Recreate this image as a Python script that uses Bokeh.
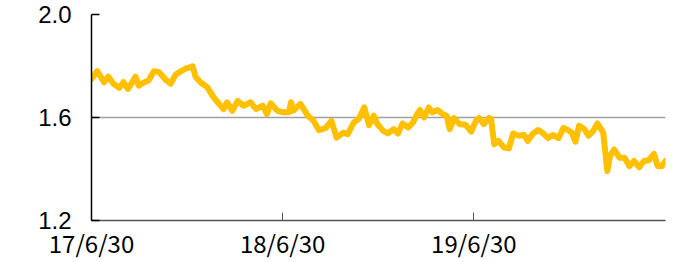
import pandas as pd
from bokeh.plotting import figure
from bokeh.models import FixedTicker, Range1d
from bokeh.embed import file_html
from bokeh.resources import INLINE

dates = [
    "2017-06-30", "2017-07-11", "2017-07-24", "2017-08-01", "2017-08-11", "2017-08-22",
    "2017-08-30", "2017-09-08", "2017-09-22", "2017-09-28", "2017-10-09", "2017-10-17",
    "2017-10-27", "2017-11-06", "2017-11-20", "2017-11-28", "2017-12-08", "2017-12-18",
    "2017-12-27", "2018-01-09", "2018-01-15", "2018-01-24", "2018-02-06", "2018-02-16",
    "2018-02-26", "2018-03-09", "2018-03-16", "2018-03-26", "2018-04-05", "2018-04-16",
    "2018-04-30", "2018-05-10", "2018-05-23", "2018-05-31", "2018-06-07", "2018-06-20",
    "2018-07-02", "2018-07-12", "2018-07-16", "2018-07-20", "2018-08-03", "2018-08-17",
    "2018-08-28", "2018-09-07", "2018-09-20", "2018-10-01", "2018-10-11", "2018-10-24",
    "2018-11-01", "2018-11-13", "2018-11-22", "2018-12-03", "2018-12-12", "2018-12-21",
    "2018-12-28", "2019-01-08", "2019-01-17", "2019-01-28", "2019-02-05", "2019-02-14",
    "2019-02-25", "2019-03-06", "2019-03-12", "2019-03-19", "2019-03-27", "2019-04-05",
    "2019-04-12", "2019-04-22", "2019-05-02", "2019-05-09", "2019-05-15", "2019-05-23",
    "2019-06-03", "2019-06-14", "2019-06-25", "2019-07-04", "2019-07-10", "2019-07-19",
    "2019-07-29", "2019-08-02", "2019-08-08", "2019-08-16", "2019-08-27", "2019-09-05",
    "2019-09-13", "2019-09-24", "2019-10-04", "2019-10-11", "2019-10-21", "2019-10-31",
    "2019-11-08", "2019-11-19", "2019-11-28", "2019-12-09", "2019-12-18", "2019-12-27",
    "2020-01-03", "2020-01-10", "2020-01-17", "2020-01-27", "2020-02-04", "2020-02-13",
    "2020-02-21", "2020-03-03", "2020-03-11", "2020-03-16", "2020-03-24", "2020-04-03",
    "2020-04-13", "2020-04-22", "2020-05-01", "2020-05-11", "2020-05-20", "2020-05-29",
    "2020-06-08", "2020-06-15", "2020-06-23", "2020-06-30",
]
values = [
    1.750, 1.780, 1.737, 1.759, 1.731, 1.715,
    1.737, 1.711, 1.759, 1.724, 1.737, 1.744,
    1.780, 1.776, 1.744, 1.731, 1.767, 1.780,
    1.790, 1.799, 1.757, 1.737, 1.718, 1.685,
    1.659, 1.633, 1.659, 1.626, 1.665, 1.646,
    1.659, 1.633, 1.646, 1.613, 1.655, 1.626,
    1.620, 1.620, 1.659, 1.626, 1.653, 1.607,
    1.587, 1.551, 1.559, 1.587, 1.522, 1.541,
    1.535, 1.581, 1.594, 1.639, 1.570, 1.607,
    1.574, 1.548, 1.538, 1.555, 1.538, 1.577,
    1.561, 1.581, 1.607, 1.629, 1.600, 1.639,
    1.620, 1.629, 1.613, 1.607, 1.555, 1.598,
    1.574, 1.572, 1.545, 1.587, 1.598, 1.574,
    1.598, 1.594, 1.496, 1.509, 1.483, 1.480,
    1.538, 1.529, 1.532, 1.509, 1.538, 1.551,
    1.541, 1.520, 1.532, 1.520, 1.559, 1.551,
    1.541, 1.506, 1.568, 1.555, 1.529, 1.548,
    1.577, 1.541, 1.392, 1.450, 1.476, 1.444,
    1.444, 1.411, 1.431, 1.407, 1.431, 1.434,
    1.459, 1.411, 1.411, 1.431,
]
tick_dates = ["2017-06-30", "2018-06-30", "2019-06-30"]
tick_labels = ["17/6/30", "18/6/30", "19/6/30"]
y_ticks = [1.2, 1.6, 2.0]

x = pd.to_datetime(dates)
x_start = pd.Timestamp("2017-06-30")
x_end = pd.Timestamp("2020-06-30")

def ms(ts):
    return float(pd.Timestamp(ts).value // 10**6)

p = figure(width=674, height=262, x_axis_type="datetime",
           output_backend="svg", toolbar_location=None,
           x_range=Range1d(x_start, x_end), y_range=Range1d(1.2, 2.0),
           min_border_left=91, min_border_right=9,
           min_border_top=14, min_border_bottom=42)
p.outline_line_color = None
p.background_fill_color = "white"

p.line(x, values, line_color="#FFC000", line_width=6, line_join="round", line_cap="round")

# y axis
p.yaxis.ticker = FixedTicker(ticks=y_ticks)
p.yaxis.major_label_overrides = {1.2: "1.2", 1.6: "1.6", 2.0: "2.0"}
p.yaxis.major_label_text_font = "Liberation Sans"
p.yaxis.major_label_text_font_size = "24px"
p.yaxis.major_label_text_color = "black"
p.yaxis.major_label_standoff = 20
p.yaxis.axis_line_color = "black"
p.yaxis.axis_line_width = 1.5
p.yaxis.major_tick_in = 8
p.yaxis.major_tick_out = 0
p.yaxis.major_tick_line_color = "black"
p.yaxis.major_tick_line_width = 1.5
p.yaxis.minor_tick_line_color = None

# x axis
tick_ms = [ms(d) for d in tick_dates]
p.xaxis.ticker = FixedTicker(ticks=tick_ms)
p.xaxis.major_label_overrides = {t: l for t, l in zip(tick_ms, tick_labels)}
p.xaxis.major_label_text_font = "Noto Sans CJK JP"
p.xaxis.major_label_text_font_size = "24px"
p.xaxis.major_label_text_color = "black"
p.xaxis.major_label_standoff = 4
p.xaxis.axis_line_color = "#555555"
p.xaxis.axis_line_width = 1.5
p.xaxis.major_tick_in = 8
p.xaxis.major_tick_out = 0
p.xaxis.major_tick_line_color = "#555555"
p.xaxis.major_tick_line_width = 1
p.xaxis.minor_tick_line_color = None

p.xgrid.grid_line_color = None
p.ygrid.grid_line_color = "#A0A0A0"
p.ygrid.grid_line_width = 1.5

open("out.html", "w").write(file_html(p, INLINE))
